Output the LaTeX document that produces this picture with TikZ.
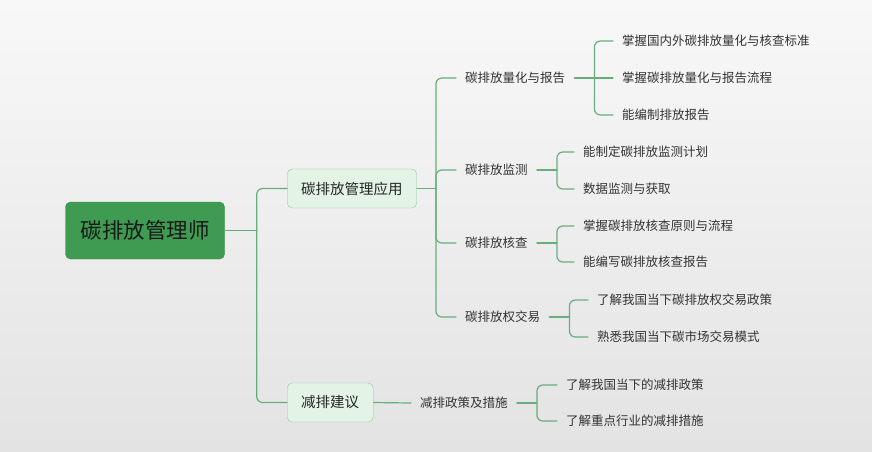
\documentclass[tikz,border=0pt]{standalone}
\usepackage{fontspec}
\setmainfont{Noto Sans CJK SC}
\usepackage{tikz}
\usetikzlibrary{positioning}
\usepackage{xcolor}
\definecolor{Leaf}{HTML}{3F9B52}
\definecolor{Mint}{HTML}{E3F3E6}
\definecolor{MintLine}{HTML}{8FC79D}
\definecolor{Stem}{HTML}{68AE7C}
\definecolor{Ink}{HTML}{333333}
\definecolor{BgTop}{HTML}{F8F8F8}
\definecolor{BgBottom}{HTML}{E3E3E3}

\begin{document}
\begin{tikzpicture}[
    x=1pt, y=-1pt,
    every node/.style={text=Ink},
    rootbox/.style={draw=Leaf!85!black, fill=Leaf, rounded corners=5pt,
        minimum width=159pt, minimum height=57pt,
        font=\fontsize{21.5}{24}\selectfont, text=black!90},
    topicbox/.style={draw=MintLine, fill=Mint, rounded corners=5pt,
        minimum height=39pt, inner xsep=14pt, anchor=west,
        font=\fontsize{14.5}{17}\selectfont, text=black!85},
    topicleaf/.style={inner xsep=9pt, inner ysep=2pt, anchor=west,
        font=\fontsize{12.5}{15}\selectfont},
    branch/.style={draw=Stem, line width=1.2pt, rounded corners=6pt, line cap=round}
]

% === Background ===
\shade[top color=BgTop, bottom color=BgBottom] (0,0) rectangle (872,451);
\useasboundingbox (0,0) rectangle (872,451);

% === Root and main topics ===
\node[rootbox] (root) at (145,230.5) {碳排放管理师};
\node[topicbox] (app) at (287,188.5) {碳排放管理应用};
\node[topicbox] (cut) at (287,402.5) {减排建议};

% Second level
\node[topicleaf] (quant) at (456,78) {碳排放量化与报告};
\node[topicleaf] (monitor) at (456,170) {碳排放监测};
\node[topicleaf] (verify) at (456,243) {碳排放核查};
\node[topicleaf] (trade) at (456,317) {碳排放权交易};
\node[topicleaf] (policy) at (411,403) {减排政策及措施};

% Third level: quantification
\node[topicleaf] (quantA) at (613,41) {掌握国内外碳排放量化与核查标准};
\node[topicleaf] (quantB) at (613,78) {掌握碳排放量化与报告流程};
\node[topicleaf] (quantC) at (613,115) {能编制排放报告};

% Third level: monitoring
\node[topicleaf] (monitorA) at (574,152) {能制定碳排放监测计划};
\node[topicleaf] (monitorB) at (574,189) {数据监测与获取};

% Third level: verification
\node[topicleaf] (verifyA) at (574,226) {掌握碳排放核查原则与流程};
\node[topicleaf] (verifyB) at (574,262) {能编写碳排放核查报告};

% Third level: trading
\node[topicleaf] (tradeA) at (588,300) {了解我国当下碳排放权交易政策};
\node[topicleaf] (tradeB) at (588,337) {熟悉我国当下碳市场交易模式};

% Third level: reduction policy
\node[topicleaf] (policyA) at (557,385) {了解我国当下的减排政策};
\node[topicleaf] (policyB) at (557,421) {了解重点行业的减排措施};

% === Junctions ===
\coordinate[right=32pt of root] (rootj);
\coordinate[right=19pt of app] (appj);
\coordinate[right=20pt of quant] (quantj);
\coordinate[right=20pt of monitor] (monitorj);
\coordinate[right=20pt of verify] (verifyj);
\coordinate[right=20pt of trade] (tradej);
\coordinate[right=20pt of policy] (policyj);

% === Connectors ===
\draw[branch] (root.east) -- (rootj);
\draw[branch] (rootj) |- (app.west);
\draw[branch] (rootj) |- (cut.west);

\draw[branch] (app.east) -- (appj);
\draw[branch] (appj) |- (quant.west);
\draw[branch] (appj) |- (monitor.west);
\draw[branch] (appj) |- (verify.west);
\draw[branch] (appj) |- (trade.west);

\draw[branch] (quant.east) -- (quantj);
\draw[branch] (quantj) |- (quantA.west);
\draw[branch] (quantj) -- (quantB.west);
\draw[branch] (quantj) |- (quantC.west);

\draw[branch] (monitor.east) -- (monitorj);
\draw[branch] (monitorj) |- (monitorA.west);
\draw[branch] (monitorj) |- (monitorB.west);

\draw[branch] (verify.east) -- (verifyj);
\draw[branch] (verifyj) |- (verifyA.west);
\draw[branch] (verifyj) |- (verifyB.west);

\draw[branch] (trade.east) -- (tradej);
\draw[branch] (tradej) |- (tradeA.west);
\draw[branch] (tradej) |- (tradeB.west);

\draw[branch] (cut.east) -- (policy.west);
\draw[branch] (policy.east) -- (policyj);
\draw[branch] (policyj) |- (policyA.west);
\draw[branch] (policyj) |- (policyB.west);

\end{tikzpicture}
\end{document}
